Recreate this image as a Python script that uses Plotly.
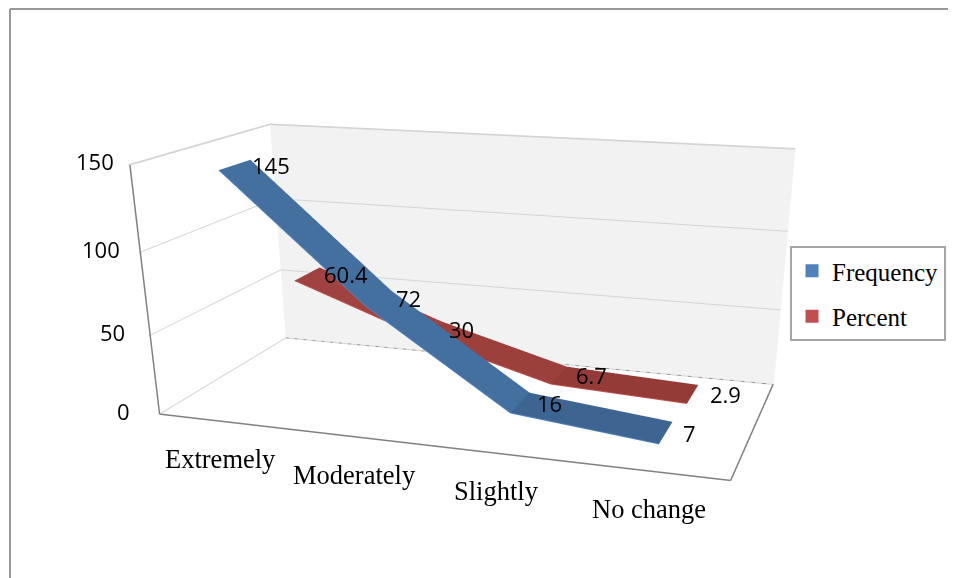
import plotly.graph_objects as go

categories = ["Extremely", "Moderately", "Slightly", "No change"]
frequency = [145, 72, 16, 7]
percent = [60.4, 30, 6.7, 2.9]
y_ticks = [0, 50, 100, 150]

W, S = 1000, 1100
dom = (0.05, 0.946)
XR = (-0.482, 3.518); YR = (0, 1); ZR = (0, 150)
DEPTH = (0.260, 0.749)
half = 0.11

fig = go.Figure()

def ribbon(vals, depth, name, color, shades, edge):
    xs, ys, zs, i, j, k = [], [], [], [], [], []
    for n, val in enumerate(vals):
        xs += [n, n]; ys += [depth - half, depth + half]; zs += [val, val]
    fc = []
    for n in range(len(vals) - 1):
        a = 2 * n
        i += [a, a + 1]; j += [a + 1, a + 3]; k += [a + 2, a + 2]; fc += [shades[n]] * 2
    fig.add_trace(go.Mesh3d(x=xs, y=ys, z=zs, i=i, j=j, k=k, facecolor=fc, flatshading=True, name=name,
                            showlegend=False, showscale=False,
                            lighting=dict(ambient=1, diffuse=0, specular=0, fresnel=0), hoverinfo="skip"))
    fig.add_trace(go.Scatter3d(x=list(range(len(vals))), y=[depth - half] * len(vals), z=vals, mode="lines",
                               line=dict(color=edge, width=2), showlegend=False, hoverinfo="skip"))
    fig.add_trace(go.Scatter3d(x=[None], y=[None], z=[None], mode="markers", name=name,
                               marker=dict(symbol="square", size=13, color=color),
                               legendgroup=name, showlegend=True, hoverinfo="skip"))

ribbon(frequency, DEPTH[0], "Frequency", "#4f81bd", ["#44709f", "#44709f", "#3e6591"], "#4f81bd")
ribbon(percent, DEPTH[1], "Percent", "#c0504d", ["#a04340", "#9c403c", "#943b38"], "#c0504d")

def edge(p, q, color, width=2, dash="solid"):
    fig.add_trace(go.Scatter3d(x=[p[0], q[0]], y=[p[1], q[1]], z=[p[2], q[2]], mode="lines",
                               line=dict(color=color, width=width, dash=dash), showlegend=False, hoverinfo="skip"))

ex, ey, ez = 0.006, 0.004, 0.3
x0, x1 = XR[0] + ex, XR[1] - ex
y0, y1 = YR[0] + ey, YR[1] - ey
z0, z1 = ZR[0] + ez, ZR[1] - ez
dark = "#808080"; light = "#d4d4d4"
edge((x0, y0, z0), (x1, y0, z0), dark, 3)
edge((x0, y0, z0), (x0, y0, z1), dark, 3)
edge((x1, y0, z0), (x1, y1, z0), dark, 3)
edge((x0, y1, z0), (x1, y1, z0), "#999999", 2, "dash")
edge((x0, y0, z0), (x0, y1, z0), light)
edge((x0, y0, z1), (x0, y1, z1), light)
edge((x0, y1, z1), (x1, y1, z1), light)

anns = []
for n, cat in enumerate(categories):
    anns.append(dict(x=n, y=y0, z=z0, text=cat, showarrow=False, yshift=-38,
                     font=dict(family="Liberation Serif", size=26.5, color="black")))
for t in y_ticks:
    anns.append(dict(x=x0, y=y0, z=t, text=str(t), showarrow=False, xanchor="right",
                     xshift=-28 + t * 0.093, yshift=4,
                     font=dict(family="Open Sans", size=22, color="black")))
for vals, depth in ((frequency, DEPTH[0]), (percent, DEPTH[1])):
    for n, val in enumerate(vals):
        anns.append(dict(x=n, y=depth, z=val, text=str(val), showarrow=False, xanchor="left", xshift=15,
                         font=dict(family="Open Sans", size=22, color="black")))

px = lambda x: (x - 8) / W
py = lambda y: 1 - (y - 8) / S
fig.update_layout(
    width=W, height=S, margin=dict(l=0, r=0, t=0, b=0), paper_bgcolor="white",
    legend=dict(x=px(790), y=py(246), xanchor="left", yanchor="top", bgcolor="white", bordercolor="#a6a6a6",
                borderwidth=2, tracegroupgap=10, font=dict(family="Liberation Serif", size=25, color="black")),
    shapes=[dict(type="line", xref="paper", yref="paper", x0=px(10), x1=px(10), y0=py(9), y1=py(600),
                 line=dict(color="#999999", width=2)),
            dict(type="line", xref="paper", yref="paper", x0=px(10), x1=1, y0=py(9), y1=py(9),
                 line=dict(color="#999999", width=2))],
    scene=dict(
        domain=dict(x=list(dom), y=[0, 1]),
        aspectmode="manual", aspectratio=dict(x=2, y=0.993, z=0.847),
        xaxis=dict(range=list(XR), showticklabels=False, title="", showgrid=False, showbackground=False,
                   showline=False, ticks="", zeroline=False, showspikes=False),
        yaxis=dict(range=list(YR), showticklabels=False, title="", showgrid=False, showbackground=True,
                   backgroundcolor="#f2f2f2", showline=False, ticks="", zeroline=False, showspikes=False),
        zaxis=dict(range=list(ZR), tickvals=y_ticks, showticklabels=False, title="", gridcolor="#d4d4d4",
                   showbackground=False, showline=False, ticks="", zeroline=False, showspikes=False),
        camera=dict(eye=dict(x=1.494, y=-4.306, z=1.131), center=dict(x=0.187, y=-0.228, z=-0.926),
                    up=dict(x=-0.013, y=-0.001, z=1)),
        annotations=anns,
    ),
)
fig.write_html("out.html", post_script="document.documentElement.style.overflow='hidden';")
